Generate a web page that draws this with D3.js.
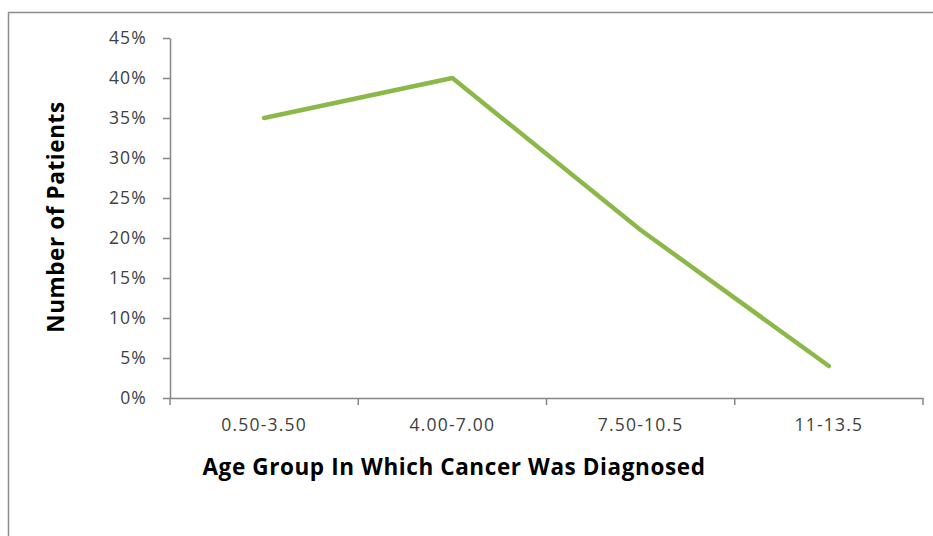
<!DOCTYPE html>
<html><head><meta charset="utf-8">
<script src="https://cdn.jsdelivr.net/npm/d3@7"></script>
<style>body{margin:0;background:#fff}svg{display:block}</style>
</head><body>
<script>
const categories = ["0.50-3.50", "4.00-7.00", "7.50-10.5", "11-13.5"];
const values = [35, 40, 21, 4];
const yTicks = [0, 5, 10, 15, 20, 25, 30, 35, 40, 45];

(function () {
const W = 933, H = 536;
const svg = d3.select("body").append("svg").attr("width", W).attr("height", H);
const font = "'Open Sans', sans-serif";

svg.append("path").attr("d", `M8.5,${H} V12.5 H${W}`).attr("fill", "none")
  .attr("stroke", "#8c8c8c").attr("stroke-width", 1.5);

const mLeft = 170, mRight = 923, mTop = 38, mBottom = 398;
const x = d3.scaleBand().domain(categories).range([mLeft, mRight]);
const y = d3.scaleLinear().domain([0, 45]).range([mBottom, mTop]);

const yAxis = svg.append("g").attr("transform", `translate(${mLeft},0)`)
  .call(d3.axisLeft(y).tickValues(yTicks).tickFormat(d => d + "%").tickSizeInner(7).tickSizeOuter(0).tickPadding(16));
const xAxis = svg.append("g").attr("transform", `translate(0,${mBottom})`)
  .call(d3.axisBottom(x).tickSize(0).tickPadding(21));
const bounds = categories.map(c => x(c)).concat([mRight]);
xAxis.selectAll(".bnd").data(bounds).enter().append("line").attr("class", "bnd")
  .attr("x1", d => d).attr("x2", d => d).attr("y1", 0).attr("y2", 7).attr("stroke", "#868686").attr("stroke-width", 1.5);

[yAxis, xAxis].forEach(g => {
  g.selectAll(".domain, .tick line").attr("stroke", "#868686").attr("stroke-width", 1.5);
  g.selectAll("text").attr("font-family", font).attr("font-size", 17.5).attr("letter-spacing", 1.2).attr("fill", "#404040");
});

const line = d3.line().x((d, i) => x(categories[i]) + x.bandwidth() / 2).y(d => y(d));
svg.append("path").datum(values).attr("d", line).attr("fill", "none")
  .attr("stroke", "#8cb84a").attr("stroke-width", 4.5).attr("stroke-linecap", "round").attr("stroke-linejoin", "round");

svg.append("text").attr("x", 454).attr("y", 475).attr("text-anchor", "middle")
  .attr("font-family", font).attr("font-weight", "bold").attr("font-size", 22.5).attr("letter-spacing", 0.6).attr("fill", "#000")
  .text("Age Group In Which Cancer Was Diagnosed");
svg.append("text").attr("transform", "translate(64,217) rotate(-90)").attr("text-anchor", "middle")
  .attr("font-family", font).attr("font-weight", "bold").attr("font-size", 22.5).attr("letter-spacing", 0.6).attr("fill", "#000")
  .text("Number of Patients");
})();
</script>
</body></html>
